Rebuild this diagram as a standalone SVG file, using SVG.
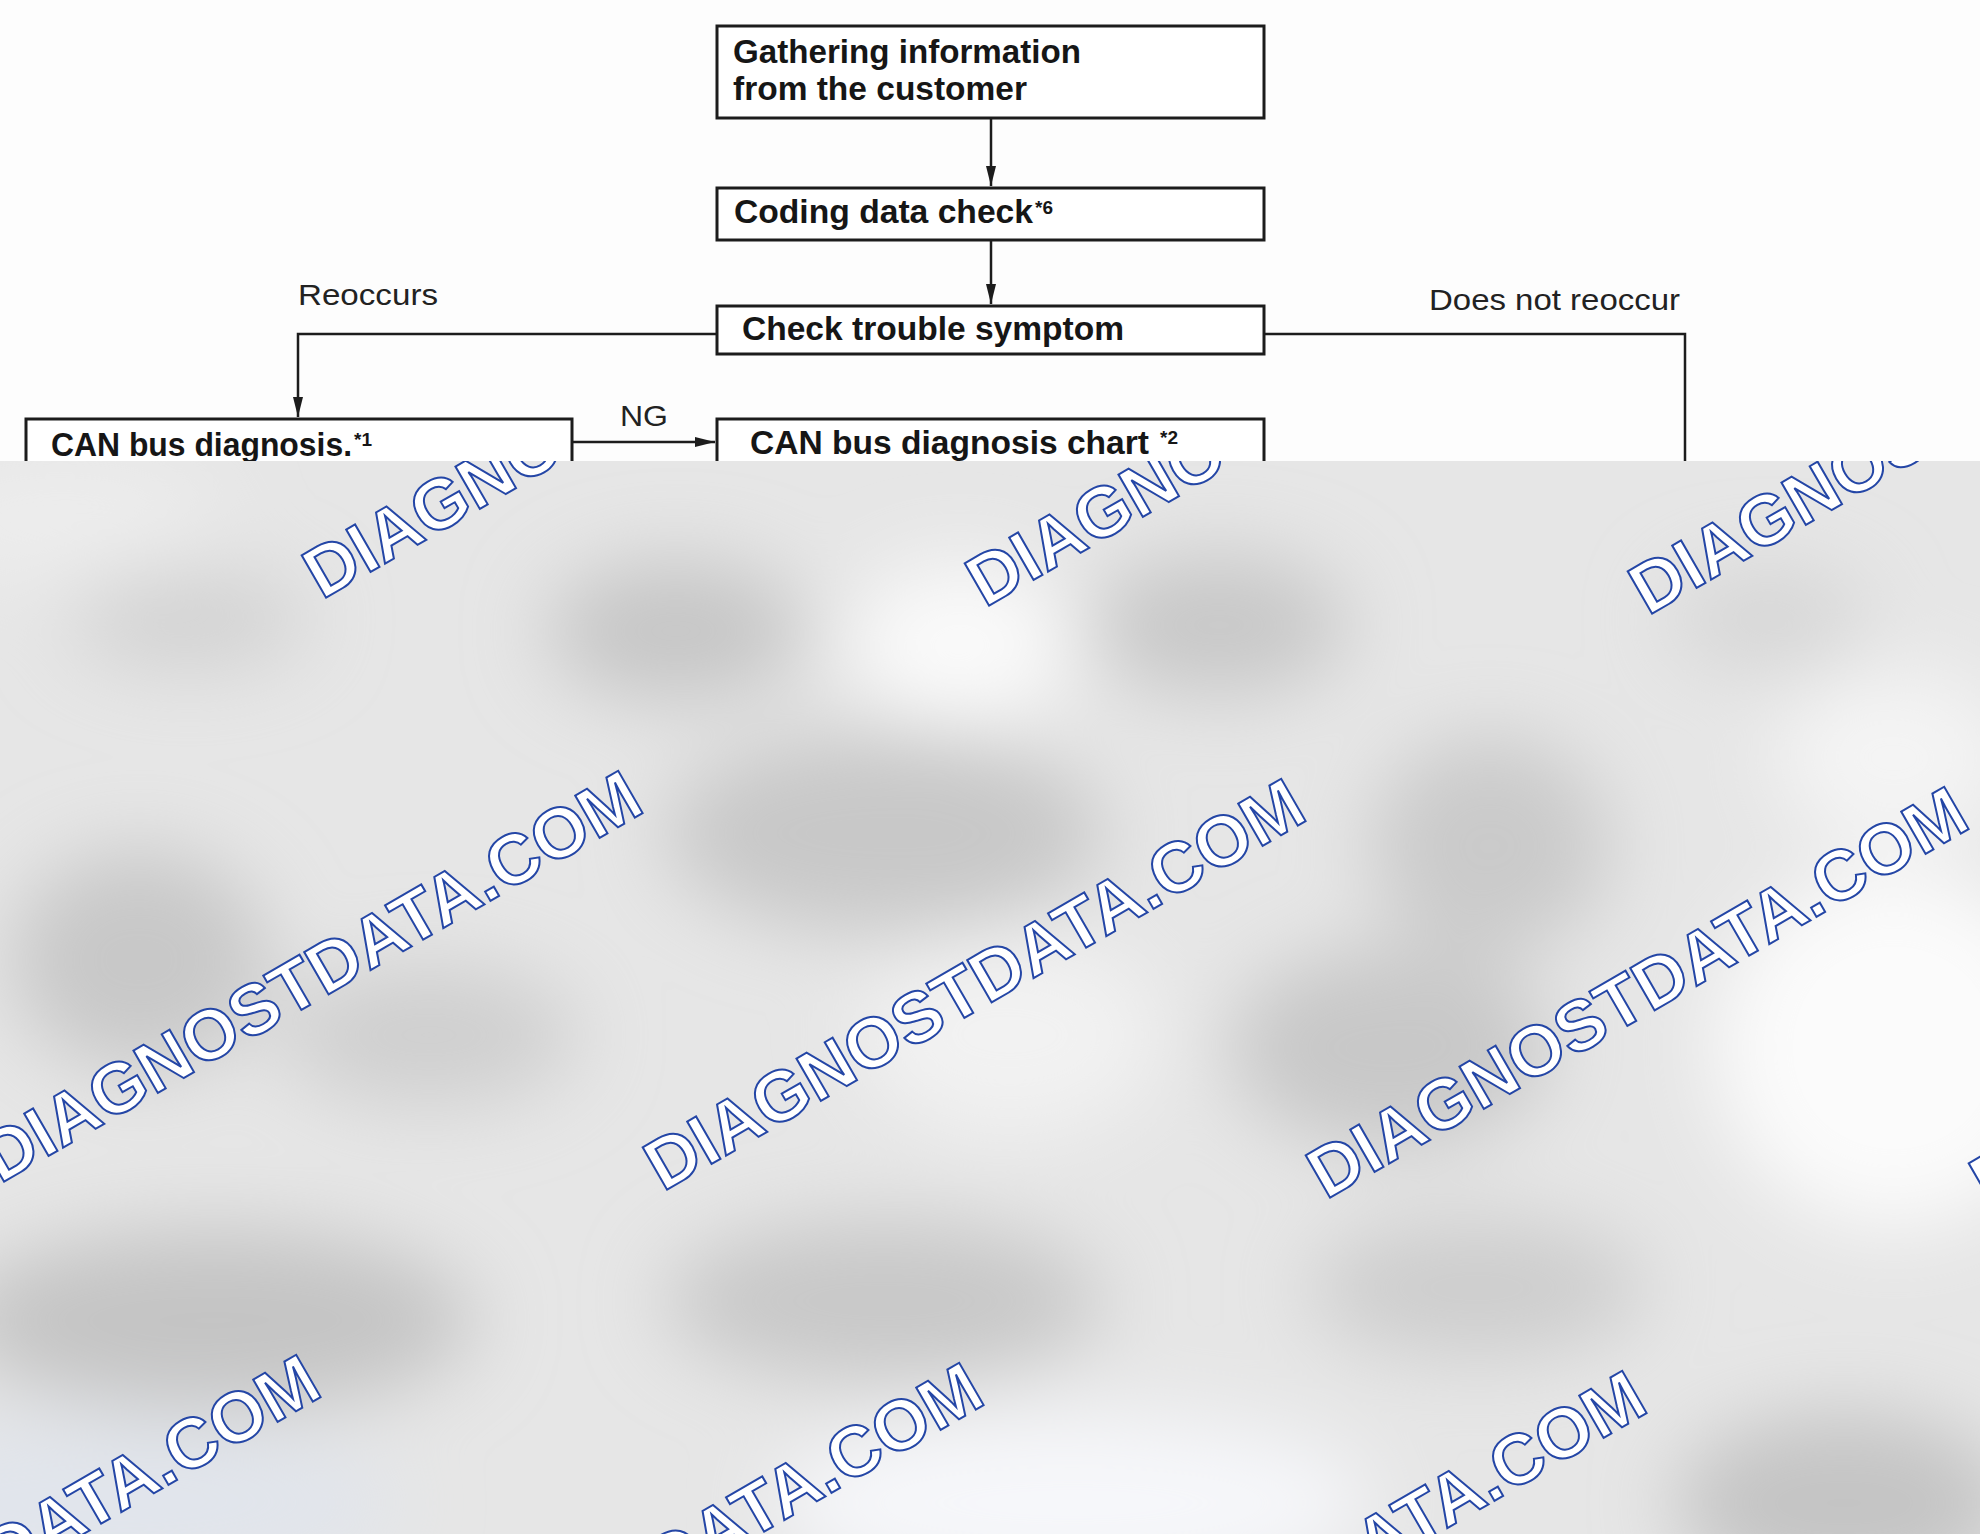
<svg xmlns="http://www.w3.org/2000/svg" width="1980" height="1534" viewBox="0 0 1980 1534">
<defs>
<style>
.box{fill:#fff;stroke:#1c1c1c;stroke-width:3}
.lbl{font-family:"Liberation Sans",Arial,sans-serif;font-weight:bold;font-size:33px;fill:#161616}
.sup{font-family:"Liberation Sans",Arial,sans-serif;font-weight:bold;font-size:19px;fill:#161616}
.edge{font-family:"Liberation Sans",Arial,sans-serif;font-size:30px;fill:#222}
.conn{fill:none;stroke:#1c1c1c;stroke-width:2.5}
.wm{font-family:"Liberation Sans",Arial,sans-serif;font-weight:bold;font-size:71px;fill:#fff;stroke:#2446a6;stroke-width:2}
</style>
<marker id="arr" markerUnits="userSpaceOnUse" markerWidth="20" markerHeight="10" refX="20" refY="5" orient="auto">
<path d="M0,0 L20,5 L0,10 z" fill="#1c1c1c"/>
</marker>
<filter id="blur" x="-30%" y="-30%" width="160%" height="160%"><feGaussianBlur stdDeviation="40"/></filter>
<clipPath id="bottom"><rect x="0" y="461" width="1980" height="1073"/></clipPath>
</defs>

<rect x="0" y="0" width="1980" height="461" fill="#fdfdfd"/>

<g id="connectors">
<path class="conn" d="M991,119 V186" marker-end="url(#arr)"/>
<path class="conn" d="M991,241 V304" marker-end="url(#arr)"/>
<path class="conn" d="M716,334 H298 V417" marker-end="url(#arr)"/>
<path class="conn" d="M1265,334 H1685 V470"/>
<path class="conn" d="M573,442 H715" marker-end="url(#arr)"/>
<text class="edge" x="298" y="305" textLength="140" lengthAdjust="spacingAndGlyphs">Reoccurs</text>
<text class="edge" x="1429" y="310" textLength="251" lengthAdjust="spacingAndGlyphs">Does not reoccur</text>
<text class="edge" x="620" y="426" textLength="48" lengthAdjust="spacingAndGlyphs">NG</text>
</g>

<g id="node-gathering">
<rect class="box" x="717" y="26" width="547" height="92"/>
<text class="lbl" x="733" y="63" textLength="348" lengthAdjust="spacingAndGlyphs">Gathering information</text>
<text class="lbl" x="733" y="100" textLength="294" lengthAdjust="spacingAndGlyphs">from the customer</text>
</g>

<g id="node-coding">
<rect class="box" x="717" y="188" width="547" height="52"/>
<text class="lbl" x="734" y="223" textLength="299" lengthAdjust="spacingAndGlyphs">Coding data check</text>
<text class="sup" x="1035" y="214">*6</text>
</g>

<g id="node-check">
<rect class="box" x="717" y="306" width="547" height="48"/>
<text class="lbl" x="742" y="340" textLength="382" lengthAdjust="spacingAndGlyphs">Check trouble symptom</text>
</g>

<g id="node-canbus">
<rect class="box" x="26" y="419" width="546" height="120"/>
<text class="lbl" x="51" y="456" textLength="301" lengthAdjust="spacingAndGlyphs">CAN bus diagnosis.</text>
<text class="sup" x="354" y="446">*1</text>
</g>

<g id="node-chart">
<rect class="box" x="717" y="419" width="547" height="120"/>
<text class="lbl" x="750" y="454" textLength="399" lengthAdjust="spacingAndGlyphs">CAN bus diagnosis chart</text>
<text class="sup" x="1160" y="444">*2</text>
</g>

<g id="background" clip-path="url(#bottom)">
<rect x="0" y="461" width="1980" height="1073" fill="#e6e6e6"/>
<g filter="url(#blur)">
<ellipse cx="189" cy="619" rx="120" ry="50" fill="#d2d2d2"/>
<ellipse cx="676" cy="631" rx="130" ry="70" fill="#c6c6c6"/>
<ellipse cx="1219" cy="625" rx="130" ry="70" fill="#c8c8c8"/>
<ellipse cx="1768" cy="619" rx="100" ry="50" fill="#d6d6d6"/>
<ellipse cx="884" cy="833" rx="220" ry="100" fill="#c8c8c8"/>
<ellipse cx="1490" cy="846" rx="120" ry="110" fill="#cacaca"/>
<ellipse cx="139" cy="960" rx="130" ry="110" fill="#c8c8c8"/>
<ellipse cx="429" cy="1035" rx="150" ry="70" fill="#cfcfcf"/>
<ellipse cx="1389" cy="1048" rx="160" ry="100" fill="#c8c8c8"/>
<ellipse cx="215" cy="1320" rx="260" ry="90" fill="#c4c4c4"/>
<ellipse cx="884" cy="1301" rx="220" ry="80" fill="#c8c8c8"/>
<ellipse cx="1477" cy="1288" rx="170" ry="70" fill="#cdcdcd"/>
<ellipse cx="1844" cy="1503" rx="170" ry="90" fill="#c4c4c4"/>
<ellipse cx="960" cy="644" rx="110" ry="80" fill="#fafafa"/>
<ellipse cx="1894" cy="1048" rx="180" ry="180" fill="#fbfbfb"/>
<ellipse cx="1073" cy="1503" rx="300" ry="90" fill="#f6f7fa"/>
<ellipse cx="100" cy="1503" rx="300" ry="80" fill="#e1e5ec"/>
<ellipse cx="1010" cy="1035" rx="150" ry="100" fill="#f2f2f2"/>
<ellipse cx="1894" cy="758" rx="120" ry="90" fill="#f4f4f4"/>
<ellipse cx="60" cy="520" rx="160" ry="60" fill="#ededed"/>
</g>
</g>

<g id="watermarks" clip-path="url(#bottom)">
<text class="wm" transform="translate(322,600) rotate(-30)">DIAGNOSTDATA.COM</text>
<text class="wm" transform="translate(985,608) rotate(-30)">DIAGNOSTDATA.COM</text>
<text class="wm" transform="translate(1648,616) rotate(-30)">DIAGNOSTDATA.COM</text>
<text class="wm" transform="translate(0,1184) rotate(-30)">DIAGNOSTDATA.COM</text>
<text class="wm" transform="translate(663,1192) rotate(-30)">DIAGNOSTDATA.COM</text>
<text class="wm" transform="translate(1326,1200) rotate(-30)">DIAGNOSTDATA.COM</text>
<text class="wm" transform="translate(1989,1208) rotate(-30)">DIAGNOSTDATA.COM</text>
<text class="wm" transform="translate(-322,1768) rotate(-30)">DIAGNOSTDATA.COM</text>
<text class="wm" transform="translate(341,1776) rotate(-30)">DIAGNOSTDATA.COM</text>
<text class="wm" transform="translate(1004,1784) rotate(-30)">DIAGNOSTDATA.COM</text>
</g>
</svg>
